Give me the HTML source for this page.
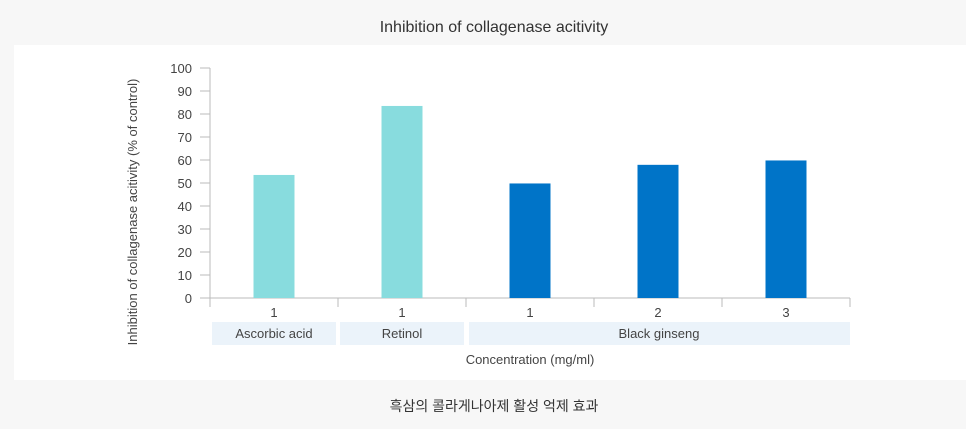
<!DOCTYPE html>
<html><head><meta charset="utf-8"><style>
body{margin:0;width:966px;height:429px;background:#f7f7f7;overflow:hidden;font-family:"Liberation Sans","Noto Sans CJK KR",sans-serif;}
svg{position:absolute;left:0;top:0}
</style></head><body>
<svg width="966" height="429" id="chart">
<rect x="14" y="45" width="952" height="335" fill="#ffffff"/>
<text x="494" y="32" text-anchor="middle" font-size="16" fill="#333">Inhibition of collagenase acitivity</text>
<text x="494" y="411" text-anchor="middle" font-size="14" fill="#333">흑삼의 콜라게나아제 활성 억제 효과</text>
<text transform="translate(137,212) rotate(-90)" text-anchor="middle" font-size="13" fill="#444">Inhibition of collagenase acitivity (% of control)</text>
<text x="530" y="364" text-anchor="middle" font-size="13" fill="#444">Concentration (mg/ml)</text>
<g id="g"></g>
</svg>
<script>
const categories=["1","1","1","2","3"];
const values=[53.5,83.5,49.8,57.9,59.8];
const colors=["#88dcde","#88dcde","#0074c8","#0074c8","#0074c8"];
const yTicks=[0,10,20,30,40,50,60,70,80,90,100];
const groups=[{label:"Ascorbic acid",from:0,to:0},{label:"Retinol",from:1,to:1},{label:"Black ginseng",from:2,to:4}];
const NS="http://www.w3.org/2000/svg",g=document.getElementById('g');
const x0=210,bw=128,y0=298,pxu=2.3;
const y=v=>y0-v*pxu, xc=i=>x0+bw*i+bw/2;
function el(t,a){const e=document.createElementNS(NS,t);for(const k in a)e.setAttribute(k,a[k]);g.appendChild(e);return e;}
let e=el('line',{x1:x0,y1:y(100),x2:x0,y2:y0,stroke:'#bbb'});

yTicks.forEach(t=>{
 let l=el('line',{x1:x0-10,x2:x0,y1:y(t),y2:y(t),stroke:'#bbb'});
 
 let tx=el('text',{x:x0-18,y:y(t)+5,'text-anchor':'end','font-size':13,fill:'#444'});tx.textContent=t;
 
});
e=el('line',{x1:x0,y1:y0,x2:x0+bw*categories.length,y2:y0,stroke:'#bbb'});

for(let i=0;i<=categories.length;i++){
 let l=el('line',{x1:x0+bw*i,x2:x0+bw*i,y1:y0,y2:y0+9,stroke:'#bbb'});
 
}
values.forEach((v,i)=>{
 let r=el('rect',{x:xc(i)-20.5,width:41,y:y(v),height:v*pxu,fill:colors[i]});
 
 let t=el('text',{x:xc(i),y:y0+19,'text-anchor':'middle','font-size':13,fill:'#444'});t.textContent=categories[i];
 
});
groups.forEach(gr=>{
 const a=x0+bw*gr.from+2,b=x0+bw*(gr.to+1)-(gr.to===4?0:2);
 let r=el('rect',{x:a+(gr.from===2?1:0),y:322,width:b-a-(gr.from===2?1:0),height:23,fill:'#ebf3fa'});
 
 let t=el('text',{x:(a+b)/2,y:338,'text-anchor':'middle','font-size':13,fill:'#444'});t.textContent=gr.label;
 
});
</script>
</body></html>
